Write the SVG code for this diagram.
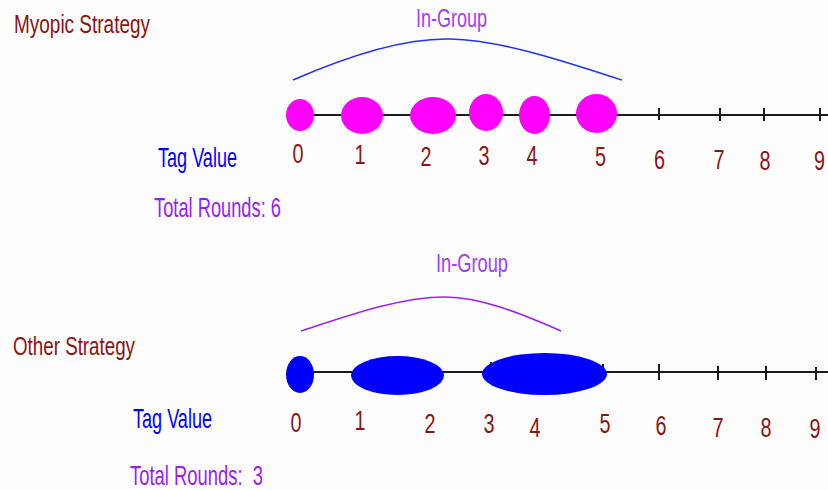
<svg xmlns="http://www.w3.org/2000/svg" width="828" height="490" viewBox="0 0 828 490">
<style>
text{font-family:"Liberation Sans",Arial,sans-serif;}
.title{fill:#8b1414;font-size:25px;}
.dig{fill:#8b1414;font-size:28px;}
.tag{fill:#0000ff;font-size:28px;}
.tot{fill:#9b1ef0;font-size:28px;white-space:pre;}
.ing{fill:#a040f5;font-size:26px;}
.axis{stroke:#1a1a1a;stroke-width:2;fill:none;}
.tick{stroke:#1a1a1a;stroke-width:2;}
.mag{fill:#ff00ff;}
.blu{fill:#0000ff;}
</style>
<rect width="828" height="490" fill="#fdfdfd"/>
<g id="myopic">
  <text class="title" x="14" y="33" textLength="136" lengthAdjust="spacingAndGlyphs">Myopic Strategy</text>
  <text class="ing" x="416" y="27" textLength="71" lengthAdjust="spacingAndGlyphs">In-Group</text>
  <path d="M293,80 C350,55 405,38 450,39 C500,40 560,60 622,80" fill="none" stroke="#2030ff" stroke-width="1.6"/>
  <g id="axis-top">
    <line class="axis" x1="300" y1="115" x2="828" y2="115"/>
    <line class="tick" x1="659" y1="108" x2="659" y2="120"/>
    <line class="tick" x1="720" y1="108" x2="720" y2="121"/>
    <line class="tick" x1="764" y1="108" x2="764" y2="121"/>
    <line class="tick" x1="820" y1="108" x2="820" y2="121"/>
  </g>
  <g id="top-ellipses">
    <ellipse class="mag" cx="300" cy="115" rx="14" ry="16"/>
    <ellipse class="mag" cx="362" cy="115.5" rx="21" ry="18.5"/>
    <ellipse class="mag" cx="433" cy="115.5" rx="23" ry="18.5"/>
    <ellipse class="mag" cx="486" cy="112.5" rx="17" ry="18.5"/>
    <ellipse class="mag" cx="534.5" cy="115" rx="15.5" ry="19"/>
    <ellipse class="mag" cx="596.5" cy="113.5" rx="20.5" ry="19.5"/>
  </g>
  <text class="tag" x="158" y="167" textLength="79" lengthAdjust="spacingAndGlyphs">Tag Value</text>
  <g id="top-digits">
    <text class="dig" x="292.5" y="163" textLength="11" lengthAdjust="spacingAndGlyphs">0</text>
    <text class="dig" x="354.5" y="164" textLength="11" lengthAdjust="spacingAndGlyphs">1</text>
    <text class="dig" x="420.5" y="166" textLength="11" lengthAdjust="spacingAndGlyphs">2</text>
    <text class="dig" x="478.5" y="165" textLength="11" lengthAdjust="spacingAndGlyphs">3</text>
    <text class="dig" x="526.5" y="165" textLength="11" lengthAdjust="spacingAndGlyphs">4</text>
    <text class="dig" x="595" y="166" textLength="11" lengthAdjust="spacingAndGlyphs">5</text>
    <text class="dig" x="654" y="169" textLength="11" lengthAdjust="spacingAndGlyphs">6</text>
    <text class="dig" x="713.5" y="169" textLength="11" lengthAdjust="spacingAndGlyphs">7</text>
    <text class="dig" x="759.5" y="170" textLength="11" lengthAdjust="spacingAndGlyphs">8</text>
    <text class="dig" x="814" y="170" textLength="11" lengthAdjust="spacingAndGlyphs">9</text>
  </g>
  <text class="tot" x="154" y="217" textLength="127" lengthAdjust="spacingAndGlyphs">Total Rounds: 6</text>
</g>
<g id="other">
  <text class="title" x="13" y="355" textLength="122" lengthAdjust="spacingAndGlyphs">Other Strategy</text>
  <text class="ing" x="436" y="272" textLength="72" lengthAdjust="spacingAndGlyphs">In-Group</text>
  <path d="M301,331 C350,315 400,297 445,297 C480,297 520,313 561,331" fill="none" stroke="#a020f0" stroke-width="1.6"/>
  <g id="axis-bottom">
    <line class="axis" x1="300" y1="372" x2="828" y2="372"/>
    <line class="tick" x1="491" y1="362" x2="491" y2="380"/>
    <line class="tick" x1="603" y1="364" x2="603" y2="380"/>
    <line class="tick" x1="659" y1="364" x2="659" y2="380"/>
    <line class="tick" x1="718" y1="366" x2="718" y2="380"/>
    <line class="tick" x1="766" y1="366" x2="766" y2="380"/>
    <line class="tick" x1="816" y1="367" x2="816" y2="380"/>
  </g>
  <g id="bottom-ellipses">
    <ellipse class="blu" cx="300" cy="374.5" rx="14" ry="18.5"/>
    <ellipse class="blu" cx="397.5" cy="375.5" rx="46.5" ry="19.5"/>
    <ellipse class="blu" cx="544.5" cy="374" rx="62.5" ry="21"/>
  </g>
  <text class="tag" x="133" y="428" textLength="79" lengthAdjust="spacingAndGlyphs">Tag Value</text>
  <g id="bottom-digits">
    <text class="dig" x="290.5" y="432" textLength="11" lengthAdjust="spacingAndGlyphs">0</text>
    <text class="dig" x="354.5" y="430" textLength="11" lengthAdjust="spacingAndGlyphs">1</text>
    <text class="dig" x="424.5" y="433" textLength="11" lengthAdjust="spacingAndGlyphs">2</text>
    <text class="dig" x="483.5" y="433" textLength="11" lengthAdjust="spacingAndGlyphs">3</text>
    <text class="dig" x="529.5" y="437" textLength="11" lengthAdjust="spacingAndGlyphs">4</text>
    <text class="dig" x="599.5" y="433" textLength="11" lengthAdjust="spacingAndGlyphs">5</text>
    <text class="dig" x="655.5" y="435" textLength="11" lengthAdjust="spacingAndGlyphs">6</text>
    <text class="dig" x="712.5" y="437" textLength="11" lengthAdjust="spacingAndGlyphs">7</text>
    <text class="dig" x="760.5" y="437" textLength="11" lengthAdjust="spacingAndGlyphs">8</text>
    <text class="dig" x="809.5" y="438" textLength="11" lengthAdjust="spacingAndGlyphs">9</text>
  </g>
  <text class="tot" x="130" y="485" textLength="133" lengthAdjust="spacingAndGlyphs">Total Rounds:  3</text>
</g>
</svg>
